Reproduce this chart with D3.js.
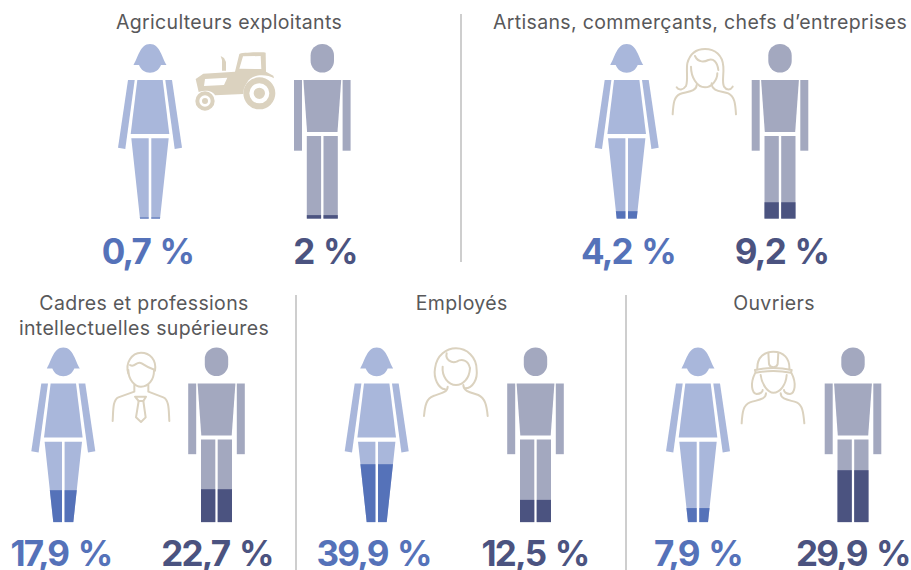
<!DOCTYPE html>
<html><head><meta charset="utf-8">
<script src="https://cdn.jsdelivr.net/npm/d3@7/dist/d3.min.js"></script>
<style>html,body{margin:0;padding:0;background:#fff}svg{display:block}</style>
</head><body><svg id="c" width="911" height="570"></svg>
<script>
const categories = ["Agriculteurs exploitants","Artisans, commerçants, chefs d’entreprises","Cadres et professions|intellectuelles supérieures","Employés","Ouvriers"];
const femaleValues = [0.7,4.2,17.9,39.9,7.9];
const maleValues = [2,9.2,22.7,12.5,29.9];

const layout = [
 {fx:150,mx:322.3,top:44,tx:229,ty:29,lfx:147.5,lmx:325,ly:264,icon:"tractor"},
 {fx:626.7,mx:780,top:44,tx:700,ty:29,lfx:628,lmx:781.5,ly:264,icon:"woman1"},
 {fx:63.3,mx:216.5,top:347.5,tx:144,ty:310,lfx:61,lmx:217,ly:566,icon:"man"},
 {fx:376.7,mx:535.5,top:347.5,tx:461.7,ty:310,lfx:373.7,lmx:535,ly:566,icon:"woman2"},
 {fx:698,mx:853,top:347.5,tx:774,ty:310,lfx:698,lmx:853,ly:566,icon:"worker"}
];
const colors = {fLight:"#a9b7db",fDark:"#5572b9",mLight:"#a3a8bf",mDark:"#4b5380",icon:"#dbd2bf",title:"#58585a",rule:"#b4b4b4"};
const FIG_H = 174.7;
// height of the filled part of the legs for a percentage
const fillScale = d3.scaleLinear().domain([0,17.9,22.7,29.9,39.9]).range([0,32,33,52,58]);
const fmt = v => String(v).replace(".",",")+" %";

const femaleBody = [
 "M-16.5,21C-12,14-10,0 0,0C10,0 12,14 16.5,21L11,21C9,26 5,28.7 0,28.7C-5,28.7-9,26-11,21Z",
 "M-22,36L-15.3,36L-24.7,105L-32,103.7Z",
 "M22,36L15.3,36L24.7,105L32,103.7Z",
 "M-12.7,36L12.7,36L19.3,90L-19.3,90Z"];
const femaleLegs = "M-18.7,94.3L-1.3,94.3L-1.3,174.7L-10,174.7ZM18.7,94.3L1.3,94.3L1.3,174.7L10,174.7Z";
const maleBody = [
 "M-11.7,11.5A11.7,11.5 0 0 1 11.7,11.5L11.7,17A11.7,11.5 0 0 1 -11.7,17Z",
 "M-28.3,36H-20.3V106.7H-28.3Z",
 "M28.3,36H20.3V106.7H28.3Z",
 "M-18.9,36H18.9L15.2,88H-15.2Z"];
const maleLegs = "M-15.5,92H-1.2V174.7H-15.5ZM15.5,92H1.2V174.7H15.5Z";

const icons = {
 tractor:{ox:100,oy:30,filled:true,parts:[
  "M287,147L310,131L405,125L418,72C420,68 490,65 497,68L498,125L520,137L522,145C500,132 455,130 440,160C432,172 430,180 430,192L345,196C340,185 320,178 296,186ZM315,147L382,143L372,165L312,168ZM418,116L484,117L482,78L429,79Z",
  "M478,190m-48,0a48,48 0 1 0 96,0a48,48 0 1 0 -96,0ZM478,190m-30,0a30,30 0 1 1 60,0a30,30 0 1 1 -60,0ZM478,190m-17,0a17,17 0 1 0 34,0a17,17 0 1 0 -34,0Z",
  "M315,213m-29,0a29,29 0 1 0 58,0a29,29 0 1 0 -58,0ZM315,213m-17,0a17,17 0 1 1 34,0a17,17 0 1 1 -34,0ZM315,213m-9,0a9,9 0 1 0 18,0a9,9 0 1 0 -18,0Z",
  "M366,122L366,90L362,78L372,84L378,96L378,122Z"]},
 woman1:{ox:580,oy:30,parts:[
  "M290,172C296,182 310,180 318,168C325,150 318,120 322,100C330,70 350,57 375,57C405,57 428,75 430,110C432,135 425,155 432,170C440,182 452,180 458,170",
  "M345,78C355,100 375,95 385,90C400,85 412,95 415,120",
  "M333,110C333,140 350,172 375,172C395,172 412,150 412,130",
  "M278,253C280,220 282,200 300,192C320,185 350,185 350,165",
  "M468,253C466,220 464,200 445,190C425,183 395,185 395,160"]},
 man:{ox:0,oy:340,parts:[
  "M385,100C375,70 395,38 423,38C450,38 470,60 465,92",
  "M390,75C405,85 410,60 425,70C440,80 450,85 465,90",
  "M385,90C385,120 405,140 423,140C445,140 462,120 462,92",
  "M338,243C340,210 338,180 355,172L403,155L403,135",
  "M508,243C506,210 508,180 490,172L445,155L445,135",
  "M405,170L438,170L430,183L416,183Z",
  "M416,183L408,232L423,246L437,232L430,183"]},
 woman2:{ox:330,oy:340,parts:[
  "M345,148C325,145 310,115 315,85C320,45 350,25 378,25C410,25 440,50 440,90C443,115 430,145 405,145",
  "M350,40C345,60 365,70 380,65C395,55 415,60 420,85",
  "M338,80C335,110 355,135 378,135C400,135 418,115 420,85",
  "M282,228C285,195 290,175 310,168C330,160 353,158 353,140",
  "M473,228C470,195 465,175 445,165C425,158 400,155 400,135"]},
 worker:{ox:640,oy:340,parts:[
  "M352,88C350,50 375,35 400,35C430,35 450,55 448,88",
  "M345,90C380,82 420,82 455,90L453,98C420,92 380,92 347,98Z",
  "M385,38L387,72C390,85 410,85 413,72L415,38",
  "M345,100C330,130 335,160 350,162C362,162 368,155 368,150",
  "M455,100C470,130 465,160 450,162C438,162 432,155 432,150",
  "M362,105C365,135 385,158 400,158C420,158 438,135 440,105",
  "M305,250C307,215 310,195 330,187C350,180 378,180 378,160",
  "M493,250C490,215 487,195 470,187C450,180 422,180 422,160"]}
};

const svg = d3.select("#c");
const F = "Inter, 'Open Sans', sans-serif";

// dividers
svg.selectAll("line.rule").data([[461,14,262],[296,295,570],[626,295,570]]).join("line")
  .attr("x1",d=>d[0]).attr("x2",d=>d[0]).attr("y1",d=>d[1]).attr("y2",d=>d[2])
  .attr("stroke",colors.rule).attr("stroke-width",1.3);

function figure(g,id,cx,top,body,legs,light,dark,value){
  const f = g.append("g").attr("transform",`translate(${cx},${top})`);
  f.selectAll("path.b").data(body).join("path").attr("d",d=>d).attr("fill",light);
  f.append("path").attr("d",legs).attr("fill",light);
  const h = fillScale(value);
  g.append("clipPath").attr("id",id).append("path").attr("d",legs);
  f.append("rect").attr("clip-path",`url(#${id})`)
    .attr("x",-40).attr("width",80).attr("y",FIG_H-h).attr("height",h).attr("fill",dark);
}

categories.forEach((cat,i)=>{
  const L = layout[i], g = svg.append("g");
  cat.split("|").forEach((line,k)=>{
    g.append("text").attr("x",L.tx).attr("y",L.ty+k*25).attr("text-anchor","middle")
      .attr("font-family",F).attr("font-size",19.5).attr("letter-spacing",0.35).attr("fill",colors.title).text(line);
  });
  figure(g,"cf"+i,L.fx,L.top,femaleBody,femaleLegs,colors.fLight,colors.fDark,femaleValues[i]);
  figure(g,"cm"+i,L.mx,L.top,maleBody,maleLegs,colors.mLight,colors.mDark,maleValues[i]);
  const ic = icons[L.icon];
  const ig = g.append("g").attr("transform",`translate(${ic.ox},${ic.oy}) scale(${1/3})`);
  ig.selectAll("path").data(ic.parts).join("path").attr("d",d=>d)
    .attr("fill",ic.filled?colors.icon:"none")
    .attr("fill-rule","evenodd")
    .attr("stroke",ic.filled?"none":colors.icon)
    .attr("stroke-width",ic.filled?0:6).attr("stroke-linecap","round").attr("stroke-linejoin","round");
  [[L.lfx,femaleValues[i],colors.fDark],[L.lmx,maleValues[i],colors.mDark]].forEach(([x,v,c])=>{
    g.append("text").attr("x",x).attr("y",L.ly).attr("text-anchor","middle")
      .attr("font-family",F).attr("font-weight",700).attr("font-size",35).attr("letter-spacing",-1.8).attr("word-spacing",3).attr("fill",c).text(fmt(v));
  });
});
</script></body></html>
